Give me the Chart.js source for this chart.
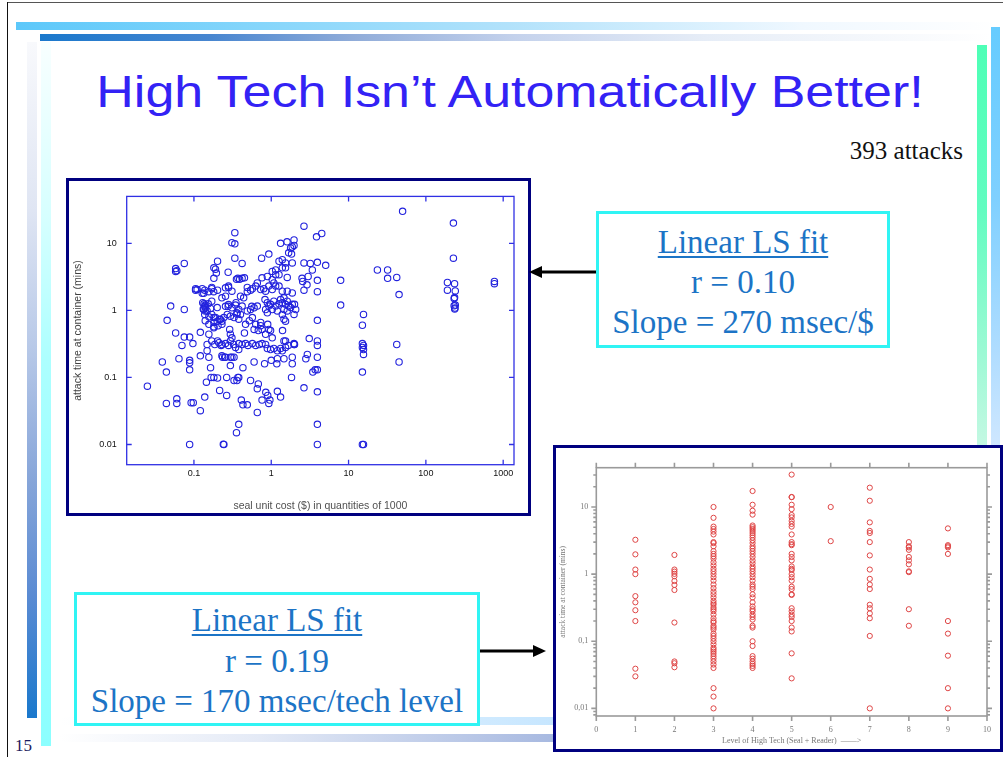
<!DOCTYPE html>
<html><head><meta charset="utf-8">
<script src="https://cdn.jsdelivr.net/npm/chart.js@4.4.0/dist/chart.umd.min.js"></script>
<style>
html,body{margin:0;padding:0;background:#fff;}
#slide{position:relative;width:1003px;height:757px;overflow:hidden;background:#fff;}
.abs{position:absolute;}
.tl{position:absolute;text-align:center;font-family:"Liberation Serif","Times New Roman",serif;font-size:33px;line-height:33px;color:#1c74c6;white-space:nowrap;}
.box{position:absolute;box-sizing:border-box;background:#fff;}
</style></head><body>
<div id="slide">
  <!-- frame lines -->
  <div class="abs" style="left:7px;top:2px;width:996px;height:1px;background:#555"></div>
  <div class="abs" style="left:7px;top:2px;width:1px;height:755px;background:#111"></div>
  <!-- top bars -->
  <div class="abs" style="left:16px;top:22px;width:984px;height:8px;background:linear-gradient(to right,#5cc8fa 0%,#86d6fb 25%,#b2e2fb 50%,#f0f8ff 80%,#fff 100%)"></div>
  <div class="abs" style="left:40px;top:34px;width:950px;height:7px;background:linear-gradient(to right,#1a78cc 0%,#4886d0 18%,#90acd9 33%,#c4d2ec 50%,#e6edf7 70%,#fff 100%)"></div>
  <!-- left bars -->
  <div class="abs" style="left:27px;top:42px;width:10px;height:676px;background:linear-gradient(to bottom,#f8f9fc 0%,#dfe5f3 25%,#b8c9e8 45%,#86a5d9 65%,#5a8bd3 82%,#1a78cc 100%)"></div>
  <div class="abs" style="left:41px;top:42px;width:10px;height:704px;background:linear-gradient(to bottom,#f8ffff 0%,#d6ffff 25%,#adffff 45%,#98ffff 70%,#8cffff 100%)"></div>
  <!-- right bars -->
  <div class="abs" style="left:977px;top:45px;width:10px;height:410px;background:linear-gradient(to bottom,#4effb6 0%,#62fcc0 40%,#9cf9d4 75%,#c8f8e4 100%)"></div>
  <div class="abs" style="left:991px;top:27px;width:9px;height:428px;background:linear-gradient(to bottom,#66ccff 0%,#7fd0ff 40%,#aedcff 75%,#d2e8ff 100%)"></div>
  <!-- bottom bars -->
  <div class="abs" style="left:60px;top:717px;width:500px;height:8px;background:linear-gradient(to right,#fff 0%,#eaf6ff 40%,#c6e6ff 100%)"></div>
  <div class="abs" style="left:60px;top:734px;width:500px;height:8px;background:linear-gradient(to right,#fff 0%,#e4eaf6 40%,#a6b8e0 100%)"></div>

  <!-- title -->
  <div class="abs" style="left:0;top:69.7px;width:1020px;text-align:center;font-family:'Liberation Sans',Arial,sans-serif;font-size:44px;line-height:44px;color:#3322f5;white-space:nowrap;transform:scaleX(1.18);transform-origin:510px 0;">High Tech Isn’t Automatically Better!</div>
  <div class="abs" style="right:40px;top:138px;font-family:'Liberation Serif',serif;font-size:25px;line-height:25px;color:#111;white-space:nowrap;">393 attacks</div>
  <div class="abs" style="left:15px;top:737px;font-family:'Liberation Serif',serif;font-size:17px;line-height:17px;color:#1a1a60;">15</div>

  <!-- chart 1 -->
  <div class="box" style="left:66px;top:178px;width:465px;height:338px;border:3px solid #00007f;"></div>
  <canvas id="c1" width="459" height="332" style="position:absolute;left:69px;top:181px;width:459px;height:332px;"></canvas>

  <!-- chart 2 -->
  <div class="box" style="left:553px;top:445px;width:450px;height:307px;border:3px solid #00007f;"></div>
  <canvas id="c2" width="444" height="301" style="position:absolute;left:556px;top:448px;width:444px;height:301px;"></canvas>

  <!-- text box 1 -->
  <div class="box" style="left:596px;top:211px;width:294px;height:137px;border:3px solid #30f4f4;"></div>
  <div class="tl" style="left:596px;top:226.4px;width:294px;"><span style="text-decoration:underline;text-decoration-thickness:2px;text-underline-offset:3px;">Linear LS fit</span></div>
  <div class="tl" style="left:596px;top:266.4px;width:294px;">r = 0.10</div>
  <div class="tl" style="left:596px;top:306.4px;width:294px;">Slope = 270 msec/$</div>

  <!-- text box 2 -->
  <div class="box" style="left:74px;top:592px;width:406px;height:134px;border:3px solid #30f4f4;"></div>
  <div class="tl" style="left:74px;top:604.4px;width:406px;"><span style="text-decoration:underline;text-decoration-thickness:2px;text-underline-offset:3px;">Linear LS fit</span></div>
  <div class="tl" style="left:74px;top:645px;width:406px;">r = 0.19</div>
  <div class="tl" style="left:74px;top:685px;width:406px;">Slope = 170 msec/tech level</div>

  <svg class="abs" style="left:0;top:0" width="1003" height="757">
    <line x1="596" y1="272" x2="539" y2="272" stroke="#000" stroke-width="3"/>
    <polygon points="529,272 542,266 542,278" fill="#000"/>
    <line x1="480" y1="651" x2="536" y2="651" stroke="#000" stroke-width="3"/>
    <polygon points="546,651 533,645 533,657" fill="#000"/>
  </svg>
</div>
<script>
// ---------- Chart 1 data: seal unit cost ($) vs attack time (mins) ----------
const sealCost = [
0.025,0.039,0.044,0.044,0.050,0.045,0.058,0.060,0.060,0.058,
0.060,0.058,0.075,0.064,0.075,0.075,0.070,0.088,0.088,0.088,
0.088,0.092,0.098,0.088,0.097,0.105,0.105,0.110,0.121,0.121,
0.121,0.138,0.134,0.135,0.138,0.140,0.132,0.140,0.145,0.140,
0.156,0.148,0.148,0.156,0.164,0.167,0.181,0.181,0.190,0.181,
0.195,0.202,0.180,0.170,0.202,0.181,0.181,0.202,0.202,0.215,
0.220,0.230,0.244,0.230,0.235,0.250,0.244,0.240,0.265,0.265,
0.277,0.280,0.277,0.290,0.296,0.296,0.310,0.310,0.338,0.338,
0.338,0.350,0.355,0.370,0.390,0.380,0.360,0.370,0.380,0.355,
0.380,0.410,0.420,0.430,0.430,0.490,0.450,0.490,0.540,0.560,
0.540,0.600,0.680,0.660,0.660,0.680,0.750,0.760,0.850,0.900,
0.930,0.960,0.820,0.900,0.930,0.980,1.03,1.00,1.18,1.20,
1.32,1.46,1.40,1.32,1.53,1.61,1.83,1.87,1.87,1.97,
2.00,1.87,1.60,1.97,1.78,1.87,1.97,1.68,1.83,2.65,
2.65,2.65,2.50,2.55,2.80,2.93,2.65,3.10,3.20,3.00,
2.90,3.40,3.45,3.70,3.95,3.95,3.95,3.95,3.95,3.95,
3.95,3.95,3.95,3.95,3.95,3.85,4.50,5.06,7.90,7.90,
15.6,15.1,15.1,15.6,15.1,15.6,15.6,15.1,15.1,15.6,
23.6,32,32,42,45,42,45,50,190,190,
227,227,235,240,235,232,240,232,238,236,
770,770
];
const attackTime = [
0.074,0.17,0.12,0.041,1.16,0.71,0.46,0.048,0.041,4.2,
3.9,3.8,5.0,0.19,1.03,0.40,0.30,0.40,0.18,0.165,
0.13,0.042,0.042,0.01,0.32,2.1,2.0,2.05,0.21,0.47,
0.032,0.051,1.8,1.25,1.15,1.1,1.05,0.98,0.085,0.7,
0.62,0.31,0.25,0.20,0.14,0.1,0.1,4.3,4.1,3.0,
3.6,5.4,1.9,2.1,2.0,0.78,0.55,0.35,0.098,0.064,
0.73,0.69,0.78,0.31,0.20,0.20,0.010,0.0101,0.054,0.1,
3.7,2.2,1.15,0.52,0.35,0.15,0.20,10.2,9.8,14.4,
6,1.3,2.9,3.0,2.9,0.74,0.88,0.1,0.1,0.015,
0.02,0.046,5.0,0.14,0.039,0.039,0.46,1.9,2.0,1.15,
0.09,0.52,0.08,0.068,0.030,0.5,6,0.046,0.06,0.054,
0.041,0.046,0.16,0.62,6.9,0.5,0.39,0.18,0.16,0.062,
0.051,0.35,0.5,10,5.1,3.1,0.1,0.16,0.2,0.32,
0.31,5.1,10.5,11.2,8.5,8.8,9.3,7.2,6.9,18,
5.1,2.0,3.0,2.7,0.19,0.22,0.07,0.38,5.0,3.2,
2.4,4,0.12,0.13,5.2,2.8,1.9,0.71,0.35,0.3,
0.2,0.13,0.061,0.02,0.01,12.5,14,4.7,2.8,1.2,
0.87,0.6,0.32,0.3,0.28,0.26,0.22,0.12,0.01,0.01,
4.0,4.0,3.0,3.1,1.72,0.31,0.17,30,2.6,2.0,
20,6,2.5,1.95,1.55,1.5,1.2,1.17,1.08,1.05,
2.7,2.5
];
// dense core of the cloud
const clusterCost = [
0.128,0.138,0.128,0.156,0.17, 0.13,0.14,0.153,0.134,0.148,
0.164,0.138,0.156,0.17,0.19, 0.181,0.2,0.215,0.205,0.23,
0.181,0.17,0.2,0.156,0.17, 0.186,0.21,0.225,0.256,0.28,
0.325,0.38,0.42,0.465,0.5, 0.57,0.63,0.845,0.89,0.98,
1.08,1.2,1.32,1.53,1.66, 1.97,0.23,0.256,0.296,0.33,
0.38,0.345,0.296,0.31,0.256, 0.28,0.31,0.345,0.38,0.42,
0.27,0.296,0.33,0.36,0.4, 0.256,0.28,0.31,0.23,0.256,
0.465,0.52,0.57,0.63,0.73, 0.49,0.54,0.6,0.66,0.49,
0.57,0.63,0.73,0.8,0.845, 0.93,1.03,0.66,0.76,0.89,
1.03,1.14,1.26,1.39,1.53, 1.39,0.83,0.89,0.93,0.845,
0.98,1.03,1.08,1.14,1.2, 1.26,0.89,1.32,1.39,1.46,
1.53,1.61,1.69,1.46,1.61, 1.78,1.87,2.0,2.07,1.97,
1.46,1.53,1.39,1.87,1.61, 1.03,1.14,0.845,0.93,0.73,
0.76,0.4,0.44,0.45,0.42, 1.26,1.08,1.14,1.26,1.39,
1.39,1.53,1.2,1.46,0.6, 0.7,0.76,0.33,0.36
];
const clusterTime = [
2.1,2.0,1.8,1.9,2.2, 1.3,1.2,1.25,1.03,0.98,
1.07,0.87,0.8,0.87,0.78, 0.66,0.69,0.74,0.59,0.62,
0.57,1.37,1.1,0.44,0.35, 0.31,0.33,0.3,0.32,0.3,
0.31,0.32,0.31,0.32,0.3, 0.32,0.3,0.31,0.27,0.26,
0.27,0.25,0.27,0.28,0.3, 0.31,0.21,0.2,0.2,0.2,
0.26,0.28,0.44,0.39,1.15, 1.22,1.09,1.2,1.03,1.16,
0.87,0.82,0.78,0.92,0.87, 2.17,2.3,1.93,1.54,1.63,
0.62,0.7,0.78,0.62,0.66, 0.98,1.03,1.09,1.16,2.2,
2.1,2.3,2.04,2.1,1.93, 2.3,2.04,2.56,3.05,3.2,
2.86,3.4,5.4,5.7,4.3, 4.3,1.45,1.3,1.16,1.03,
1.23,1.03,1.37,1.16,0.98, 1.25,0.92,1.45,1.3,1.54,
1.23,1.37,1.16,1.03,0.98, 1.1,1.23,1.23,1.03,0.87,
0.74,0.69,0.87,1.82,1.93, 3.8,4.0,0.44,0.52,0.59,
0.52,1.63,1.54,3.05,3.0, 3.4,2.56,2.3,2.3,1.93,
0.25,0.35,0.19,0.19,0.17, 0.31,0.32,0.09,0.09
];
const costTickVals = [0.1, 1, 10, 100, 1000];
const costTickLabels = ['0.1', '1', '10', '100', '1000'];
const timeTickVals1 = [0.01, 0.1, 1, 10];
const timeTickLabels1 = ['0.01', '0.1', '1', '10'];

// ---------- Chart 2 data: level of high tech vs attack time (mins) ----------
const techLevels = [1, 2, 3, 4, 5, 6, 7, 8, 9];
const timesByLevel = [
  [3.25, 1.97, 1.17, 1.0, 0.47, 0.38, 0.29, 0.2, 0.039, 0.030],
  [1.93, 1.17, 1.09, 1.01, 0.93, 0.79, 0.69, 0.58, 0.19, 0.05, 0.047, 0.041],
  [10, 6.9, 5.1, 4.7, 4.3, 3.9, 3.0, 2.9, 2.6, 2.2, 2.0, 1.85, 1.7, 1.5, 1.35, 1.2, 1.1, 1.0, 0.9, 0.8, 0.7, 0.62, 0.55, 0.5, 0.45, 0.4, 0.37, 0.35, 0.32, 0.3, 0.28, 0.25, 0.22, 0.2, 0.19, 0.17, 0.16, 0.15, 0.13, 0.12, 0.11, 0.1, 0.09, 0.08, 0.075, 0.07, 0.065, 0.06, 0.055, 0.05, 0.045, 0.04, 0.02, 0.015, 0.01],
  [17.3, 10.8, 8.8, 7.7, 5.3, 5.0, 4.7, 4.4, 4.1, 3.8, 3.5, 3.2, 2.9, 2.6, 2.4, 2.2, 2.0, 1.8, 1.6, 1.45, 1.3, 1.2, 1.1, 1.0, 0.9, 0.8, 0.7, 0.65, 0.6, 0.5, 0.45, 0.38, 0.33, 0.3, 0.28, 0.25, 0.23, 0.21, 0.17, 0.16, 0.1, 0.085, 0.06, 0.055, 0.05, 0.046, 0.043, 0.04],
  [30.4, 14.1, 14.0, 10.8, 9.3, 7.6, 7.0, 6.2, 5.6, 5.1, 3.9, 3.0, 2.8, 2.7, 2.0, 1.8, 1.6, 1.3, 1.2, 1.15, 1.0, 0.9, 0.8, 0.65, 0.6, 0.5, 0.49, 0.31, 0.28, 0.25, 0.23, 0.2, 0.16, 0.14, 0.066, 0.028],
  [10, 3.1],
  [19.4, 12.4, 5.9, 4.4, 4.1, 3.0, 1.9, 1.17, 0.85, 0.7, 0.6, 0.35, 0.31, 0.26, 0.22, 0.12, 0.01],
  [3.0, 2.6, 2.5, 2.3, 1.8, 1.6, 1.4, 1.1, 1.07, 0.3, 0.17],
  [4.8, 2.7, 2.6, 2.5, 2.0, 0.2, 0.13, 0.061, 0.02, 0.01]
];
const levelTickVals = [0, 1, 2, 3, 4, 5, 6, 7, 8, 9, 10];
const levelTickLabels = ['0', '1', '2', '3', '4', '5', '6', '7', '8', '9', '10'];
const timeTickVals2 = [0.01, 0.1, 1, 10];
const timeTickLabels2 = ['0,01', '0,1', '1', '10'];

// ---------- plugin: plot frame + tick marks drawn through the scales ----------
const frameTicks = {
  id: 'frameTicks',
  afterDatasetsDraw(chart, args, o) {
    const {ctx, chartArea: a} = chart;
    const xs = chart.scales.x, ys = chart.scales.y;
    const d = o.inward ? 1 : -1;
    ctx.save();
    ctx.strokeStyle = o.color;
    ctx.lineWidth = o.lineWidth;
    ctx.strokeRect(a.left, a.top, a.right - a.left, a.bottom - a.top);
    ctx.beginPath();
    o.xMarks.forEach(v => {
      const p = xs.getPixelForValue(v);
      ctx.moveTo(p, a.bottom); ctx.lineTo(p, a.bottom - d * o.len);
      ctx.moveTo(p, a.top); ctx.lineTo(p, a.top + d * o.len);
    });
    o.yMarks.forEach(v => {
      const p = ys.getPixelForValue(v);
      ctx.moveTo(a.left, p); ctx.lineTo(a.left + d * o.len, p);
      ctx.moveTo(a.right, p); ctx.lineTo(a.right - d * o.len, p);
    });
    if (o.minor) {
      [0.001, 0.01, 0.1, 1, 10].forEach(dec => {
        for (let k = 2; k <= 9; k++) {
          const v = dec * k;
          if (v < ys.min || v > ys.max) continue;
          const p = ys.getPixelForValue(v);
          ctx.moveTo(a.left, p); ctx.lineTo(a.left + d * o.minorLen, p);
          ctx.moveTo(a.right, p); ctx.lineTo(a.right - d * o.minorLen, p);
        }
      });
    }
    ctx.stroke();
    ctx.restore();
  }
};

// ---------- chart 1 ----------
const pts1 = sealCost.map((c, i) => ({x: c, y: attackTime[i]}))
  .concat(clusterCost.map((c, i) => ({x: c, y: clusterTime[i]})));

new Chart(document.getElementById('c1'), {
  type: 'scatter',
  data: {datasets: [{data: pts1, pointStyle: 'circle', pointRadius: 3.2, pointBorderWidth: 1.1,
    borderColor: '#2222dd', backgroundColor: 'rgba(0,0,0,0)', pointBackgroundColor: 'rgba(0,0,0,0)'}]},
  options: {
    responsive: false, animation: false, devicePixelRatio: 1,
    layout: {padding: {top: 12, right: 14, left: 0, bottom: 0}},
    plugins: {legend: {display: false}, tooltip: {enabled: false},
      frameTicks: {color: '#3030e4', lineWidth: 1.3, inward: true, len: 5,
        xMarks: costTickVals, yMarks: timeTickVals1, minor: false}},
    scales: {
      x: {type: 'logarithmic', min: 0.0135, max: 1380, bounds: 'data',
        afterBuildTicks: s => { s.ticks = costTickVals.map(v => ({value: v})); },
        afterFit: s => { s.height = 48.3; },
        grid: {display: false, drawTicks: false}, border: {display: false},
        ticks: {autoSkip: false, maxRotation: 0, padding: 3.5, color: '#111',
          font: {family: 'Liberation Sans', size: 9}, callback: (v, i) => costTickLabels[i]},
        title: {display: true, text: 'seal unit cost ($) in quantities of 1000', color: '#505050',
          font: {family: 'Liberation Sans', size: 10.5}, padding: {top: 0, bottom: 1}}},
      y: {type: 'logarithmic', min: 0.005, max: 50, bounds: 'data',
        afterBuildTicks: s => { s.ticks = timeTickVals1.map(v => ({value: v})); },
        afterFit: s => { s.width = 57.7; },
        grid: {display: false, drawTicks: false}, border: {display: false},
        ticks: {autoSkip: false, padding: 10, color: '#111',
          font: {family: 'Liberation Sans', size: 9}, callback: (v, i) => timeTickLabels1[i]},
        title: {display: true, text: 'attack time at container (mins)', color: '#404040',
          font: {family: 'Liberation Sans', size: 10.5}, padding: {top: 2.4, bottom: 0}}}
    }
  },
  plugins: [frameTicks]
});

// ---------- chart 2 ----------
const pts2 = [];
techLevels.forEach((lv, i) => timesByLevel[i].forEach(t => pts2.push({x: lv, y: t})));

new Chart(document.getElementById('c2'), {
  type: 'scatter',
  data: {datasets: [{data: pts2, pointStyle: 'circle', pointRadius: 2.6, pointBorderWidth: 1,
    borderColor: '#de4545', backgroundColor: 'rgba(0,0,0,0)', pointBackgroundColor: 'rgba(0,0,0,0)'}]},
  options: {
    responsive: false, animation: false, devicePixelRatio: 1,
    layout: {padding: {top: 19.7, right: 10.3, left: 0, bottom: 0}},
    plugins: {legend: {display: false}, tooltip: {enabled: false},
      frameTicks: {color: '#9a9a9a', lineWidth: 1.6, inward: false, len: 5, minorLen: 3,
        xMarks: levelTickVals, yMarks: timeTickVals2, minor: true}},
    scales: {
      x: {type: 'linear', min: 0, max: 10, bounds: 'data',
        afterBuildTicks: s => { s.ticks = levelTickVals.map(v => ({value: v})); },
        afterFit: s => { s.height = 33; },
        grid: {display: false, drawTicks: false}, border: {display: false},
        ticks: {autoSkip: false, maxRotation: 0, padding: 9, color: '#777',
          font: {family: 'Liberation Serif', size: 8}, callback: (v, i) => levelTickLabels[i]},
        title: {display: true, text: 'Level of High Tech (Seal + Reader)  ——>', color: '#777',
          font: {family: 'Liberation Serif', size: 8}, padding: {top: 0, bottom: 3}}},
      y: {type: 'logarithmic', min: 0.0077, max: 38.5, bounds: 'data',
        afterBuildTicks: s => { s.ticks = timeTickVals2.map(v => ({value: v})); },
        afterFit: s => { s.width = 40.3; },
        grid: {display: false, drawTicks: false}, border: {display: false},
        ticks: {autoSkip: false, padding: 8, color: '#777',
          font: {family: 'Liberation Serif', size: 8}, callback: (v, i) => timeTickLabels2[i]},
        title: {display: true, text: 'attack time at container (mins)', color: '#777',
          font: {family: 'Liberation Serif', size: 7.5}, padding: {top: 2.5, bottom: 0}}}
    }
  },
  plugins: [frameTicks]
});
</script>
</body></html>
